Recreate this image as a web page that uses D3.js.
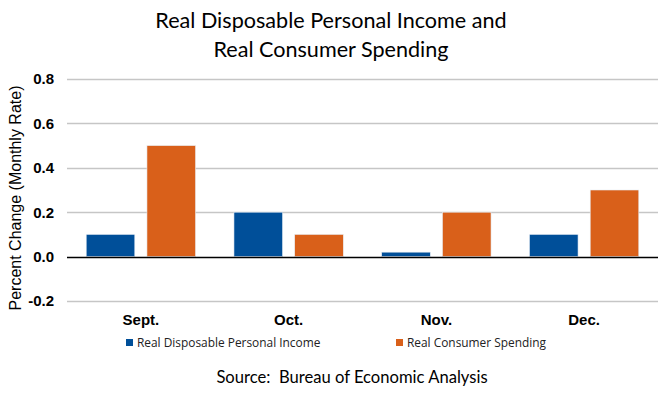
<!DOCTYPE html>
<html><head><meta charset="utf-8">
<script src="https://cdn.jsdelivr.net/npm/d3@7"></script>
<style>body{margin:0;background:#fff}svg{display:block}
.arial{font-family:"Liberation Sans",Arial,sans-serif}
.cal{font-family:"Lato",sans-serif;white-space:pre}
.leg{font-family:"Open Sans",sans-serif}
</style>
</head><body>
<script>
const categories = ["Sept.", "Oct.", "Nov.", "Dec."];
const seriesNames = ["Real Disposable Personal Income", "Real Consumer Spending"];
const incomeValues = [0.1, 0.2, 0.02, 0.1];
const spendingValues = [0.5, 0.1, 0.2, 0.3];
const yTicks = [-0.2, 0.0, 0.2, 0.4, 0.6, 0.8];
const titleLines = ["Real Disposable Personal Income and", "Real Consumer Spending"];
const yLabel = "Percent Change (Monthly Rate)";
const source = "Source:  Bureau of Economic Analysis";

const W = 671, H = 398;
const colors = ["#004F99", "#D9601A"];
const svg = d3.select("body").append("svg").attr("width", W).attr("height", H);

const x0 = d3.scaleBand().domain(categories).range([67, 658]).paddingInner(0.26).paddingOuter(0.13);
const x1 = d3.scaleBand().domain([0, 1]).range([0, x0.bandwidth()]).paddingInner(0.2);
const y = d3.scaleLinear().domain([-0.2, 0.8]).range([301, 79]);

const g = svg.append("g");
g.selectAll("line.grid").data(yTicks.filter(d => d !== 0)).join("line")
  .attr("x1", 67).attr("x2", 658)
  .attr("y1", d => Math.round(y(d)) + 0.5).attr("y2", d => Math.round(y(d)) + 0.5)
  .attr("stroke", "#c6c6c6").attr("stroke-width", 1.5);

const fmt = d => d3.format(".1f")(d).replace("\u2212", "-");
const yAxis = d3.axisLeft(y).tickValues(yTicks).tickFormat(fmt).tickSize(0).tickPadding(0);
const ya = svg.append("g").attr("transform", "translate(54,0)").call(yAxis);
ya.select(".domain").remove();
ya.attr("font-family", null).attr("font-size", null);
ya.selectAll("text").attr("class", "arial")
  .attr("font-size", 15).attr("font-weight", "bold").attr("fill", "#000");

const data = categories.map((c, i) => ({c, v: [incomeValues[i], spendingValues[i]]}));
const grp = svg.append("g").selectAll("g").data(data).join("g")
  .attr("transform", d => `translate(${x0(d.c)},0)`);
grp.selectAll("rect").data(d => d.v.map((v, k) => ({v, k}))).join("rect")
  .attr("x", d => x1(d.k)).attr("width", x1.bandwidth())
  .attr("y", d => y(Math.max(0, d.v))).attr("height", d => Math.abs(y(d.v) - y(0)))
  .attr("fill", d => colors[d.k]).attr("stroke", "#e8eef5").attr("stroke-width", 0.6);

svg.append("line").attr("x1", 67).attr("x2", 658)
  .attr("y1", Math.round(y(0)) + 0.5).attr("y2", Math.round(y(0)) + 0.5)
  .attr("stroke", "#000").attr("stroke-width", 1.5);

const xAxis = d3.axisBottom(x0).tickSize(0).tickPadding(0);
const xa = svg.append("g").attr("transform", "translate(0,325)").call(xAxis);
xa.select(".domain").remove();
xa.attr("font-family", null).attr("font-size", null);
xa.selectAll("text").attr("class", "arial")
  .attr("font-size", 15).attr("font-weight", "bold").attr("fill", "#000").attr("dy", 0);

const legX = [126, 396];
const leg = svg.append("g").selectAll("g").data(seriesNames).join("g")
  .attr("transform", (d, i) => `translate(${legX[i]},343)`);
leg.append("rect").attr("x", 0).attr("y", -4).attr("width", 7).attr("height", 7)
  .attr("fill", (d, i) => colors[i]);
leg.append("text").attr("class", "leg").attr("x", 11).attr("y", 0).attr("dy", "0.35em")
  .attr("font-size", 11.9).attr("fill", "#222")
  .text(d => d);

svg.append("text").attr("class", "arial").attr("transform", "translate(21,198) rotate(-90)")
  .attr("text-anchor", "middle")
  .attr("font-size", 16).attr("fill", "#000").text(yLabel);

svg.append("g").selectAll("text").data(titleLines).join("text").attr("class", "cal")
  .attr("x", 331).attr("y", (d, i) => 28 + i * 29).attr("text-anchor", "middle")
  .attr("font-size", 21.6).attr("fill", "#000").text(d => d);

svg.append("text").attr("class", "cal").attr("x", 352).attr("y", 383).attr("text-anchor", "middle")
  .attr("font-size", 16.6).attr("fill", "#000").text(source);
</script>
</body></html>
